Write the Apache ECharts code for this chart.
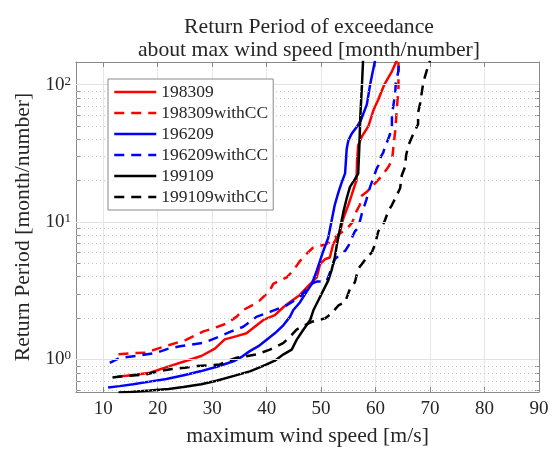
<!DOCTYPE html>
<html><head><meta charset="utf-8">
<script src="https://cdn.jsdelivr.net/npm/echarts@6/dist/echarts.min.js"></script>
<style>html,body{margin:0;padding:0;background:#fff}#c{width:557px;height:452px}</style>
</head><body><div id="c"></div>
<script>
// ---- text ----
const titleLines = ['Return Period of exceedance', 'about max wind speed [month/number]'];
const xName = 'maximum wind speed [m/s]';
const yName = 'Return Period [month/number]';
// ---- axes ----
const xMin = 5, xMax = 90;
const yMin = 0.58, yMax = 146;
const yMajor = [1, 10, 100];
const yMinor = [0.6, 0.7, 0.8, 0.9, 2, 3, 4, 5, 6, 7, 8, 9, 20, 30, 40, 50, 60, 70, 80, 90];
// ---- series: [wind speed m/s, return period] ----
const names = ['198309', '198309withCC', '196209', '196209withCC', '199109', '199109withCC'];
const d198309 = [[12.6,0.75],[15.5,0.77],[18.6,0.80],[21.6,0.88],[25,0.97],[28,1.06],[30.5,1.2],[32.3,1.4],[34.5,1.48],[36.3,1.55],[39.4,1.94],[41.5,2.1],[43.1,2.41],[44.3,2.62],[46.1,2.95],[48.0,3.55],[49.2,3.96],[49.8,4.94],[50.7,5.36],[51.6,5.52],[52.2,6.87],[53.5,8.57],[54.1,10.7],[55.0,13.3],[55.6,15.7],[56.2,18.6],[56.5,20],[56.6,28],[56.8,36],[57.5,42],[58.7,50],[59.6,65],[60.5,78],[61.6,100],[63.0,125],[63.9,150]];
const d198309cc = [[12.8,1.09],[15,1.11],[17.7,1.12],[20,1.2],[22.3,1.28],[25,1.38],[28.4,1.6],[30.5,1.7],[32.7,1.83],[34.5,2.05],[35.7,2.29],[37.5,2.5],[38.8,2.7],[40.6,3.18],[41.2,3.55],[43.7,3.96],[45,4.5],[46.1,5.2],[47,5.7],[48.5,6.5],[50.4,6.8],[51.5,7.1],[53,8],[54.8,9.0],[55.7,9.9],[56.5,12],[57.1,13.3],[57.5,15.6],[58.4,16.6],[59.9,19.1],[61.2,21.8],[62.3,25],[63.0,28],[63.2,33],[63.6,46],[63.9,66],[64.2,95],[64.2,150]];
const d196209 = [[10.9,0.625],[13,0.64],[15.5,0.66],[18.5,0.69],[21.6,0.72],[25,0.77],[27.8,0.82],[31,0.89],[33.9,0.97],[35.5,1.05],[36.9,1.15],[38.5,1.25],[40,1.39],[41.5,1.55],[43.1,1.78],[44.3,2.05],[44.9,2.29],[46.1,2.6],[47.3,3.09],[48.3,3.55],[49.2,4.43],[49.8,5.22],[50.4,6.16],[51.3,7.67],[51.9,10.1],[52.5,13.3],[53.2,16.6],[53.8,19.5],[54.4,22.6],[54.6,29.8],[54.7,34.2],[55.0,39.2],[55.6,43.8],[56.5,48.9],[57.3,55],[58.4,71.8],[59.0,100],[59.9,150]];
const d196209cc = [[11.2,0.945],[13.1,1.03],[16.1,1.06],[19.8,1.12],[22,1.2],[24.1,1.25],[28.4,1.32],[31.4,1.47],[33.5,1.6],[35.7,1.73],[38.2,2.05],[40.6,2.22],[43.7,2.48],[46.1,2.85],[47.5,3.3],[48.5,3.6],[49.2,3.69],[51.0,3.69],[52.2,4.94],[52.5,5.36],[53.5,5.8],[54.4,6.16],[55.0,6.7],[56.2,8.57],[56.8,9.06],[57.5,11.6],[57.8,12.6],[58.3,14.5],[58.7,16.6],[59.0,18.0],[59.6,21],[60.2,24.5],[60.5,25.8],[61.0,30],[61.4,32],[61.7,35],[62.3,40],[62.6,43],[63.0,50],[63.0,60],[63.3,72],[63.6,86],[63.7,102],[64.0,115],[64.2,127],[64.3,150]];
const d199109 = [[12.8,0.575],[15,0.58],[18.6,0.595],[22,0.61],[24.7,0.63],[28,0.66],[30.8,0.70],[34,0.76],[36.9,0.82],[38.5,0.87],[40,0.92],[41.5,0.98],[43.1,1.09],[44.6,1.18],[45.5,1.39],[46.7,1.64],[48,1.94],[48.6,2.29],[49.5,2.70],[50.4,3.18],[51.3,3.75],[51.9,4.43],[52.5,5.52],[52.9,6.87],[53.5,9.06],[54.1,11.9],[54.7,14.9],[55.3,18],[56.2,20.5],[56.8,22.5],[57.0,34],[57.2,59],[57.5,100],[57.7,150]];
const d199109cc = [[11.7,0.74],[14.3,0.76],[18.0,0.78],[20,0.82],[22.3,0.85],[25,0.87],[27.2,0.895],[31.4,0.92],[33,0.98],[34.5,1.03],[38.2,1.09],[40.6,1.18],[43.1,1.32],[44.6,1.51],[45.5,1.65],[47.0,1.78],[48.3,1.88],[50.7,1.99],[51.9,2.16],[53.2,2.48],[54.4,2.62],[55.3,3.27],[56.2,3.65],[56.8,4.55],[57.7,5.08],[58.5,5.6],[59.3,6.0],[59.9,6.87],[60.5,8.57],[61.1,9.3],[61.6,10],[62.3,11.9],[63.0,13.3],[63.9,15.7],[64.5,17.6],[64.8,21.8],[65.4,25.1],[65.6,30.5],[66.0,35.9],[66.9,43.5],[67.8,51.4],[67.8,62.5],[68.2,73.5],[68.5,89],[68.8,105],[69.4,127],[70.0,150]];
const seriesData = [d198309, d198309cc, d196209, d196209cc, d199109, d199109cc];

// ---- styles ----
const FONT = '"Liberation Serif", "Times New Roman", serif';
const TXT = '#262626';
const BOX = '#8a8a8a';
const colors = ['#ff0000', '#ff0000', '#0000ff', '#0000ff', '#000000', '#000000'];
const dashed = [false, true, false, true, false, true];

const chart = echarts.init(document.getElementById('c'), null, {renderer: 'canvas'});

const gridLines = yMajor.map(v => ({yAxis: v, lineStyle: {type: 'solid', color: '#e2e2e2', width: 1}}))
  .concat(yMinor.map(v => ({yAxis: v, lineStyle: {type: [1, 3], color: '#c4c4c4', width: 1}})));

const allTicks = yMinor.concat(yMajor).sort((a, b) => a - b);

const series = [{
  type: 'line', name: '_grid', data: [], z: 1, silent: true,
  markLine: {silent: true, symbol: ['none', 'none'], label: {show: false}, animation: false, data: gridLines}
}].concat(names.map((n, i) => ({
  type: 'line', name: n, data: seriesData[i], showSymbol: false, symbol: 'none', z: 3,
  lineStyle: {color: colors[i], width: 2.5, type: dashed[i] ? [10, 7] : 'solid'},
  itemStyle: {color: colors[i]}, animation: false, clip: true
})));

chart.setOption({
  animation: false,
  backgroundColor: '#ffffff',
  title: {
    text: titleLines.join('\n'), left: 304, top: 11, textAlign: 'center',
    textStyle: {fontFamily: FONT, fontSize: 21.7, fontWeight: 'normal', color: TXT, lineHeight: 23}
  },
  grid: {left: 76, right: 18, top: 62, bottom: 56, containLabel: false},
  legend: {
    data: names, orient: 'vertical', left: 108, top: 79,
    padding: [4, 5, 4, 5], itemGap: 3, itemWidth: 42, itemHeight: 14,
    backgroundColor: '#ffffff', borderColor: BOX, borderWidth: 1,
    itemStyle: {opacity: 0},
    lineStyle: {opacity: 1, width: 2.5},
    textStyle: {fontFamily: FONT, fontSize: 17.5, color: TXT, lineHeight: 18},
    z: 10
  },
  xAxis: [{
    type: 'value', min: xMin, max: xMax, splitNumber: 9, position: 'bottom',
    name: xName, nameLocation: 'middle', nameGap: 33,
    nameTextStyle: {fontFamily: FONT, fontSize: 21.7, color: TXT},
    axisLine: {show: true, onZero: false, lineStyle: {color: BOX, width: 1}},
    axisTick: {show: true, inside: true, length: 5, lineStyle: {color: BOX}},
    axisLabel: {fontFamily: FONT, fontSize: 19, color: TXT, margin: 8,
      formatter: v => (v % 10 === 0 ? String(v) : '')},
    splitLine: {show: true, lineStyle: {color: '#e6e6e6', width: 1}}
  }, {
    type: 'value', min: xMin, max: xMax, splitNumber: 9, position: 'top',
    axisLine: {show: true, onZero: false, lineStyle: {color: BOX, width: 1}},
    axisTick: {show: true, inside: true, length: 5, lineStyle: {color: BOX}},
    axisLabel: {show: false}, splitLine: {show: false}
  }],
  yAxis: [{
    type: 'log', logBase: 10, min: yMin, max: yMax, position: 'left',
    name: yName, nameLocation: 'middle', nameGap: 31, nameRotate: 90,
    nameTextStyle: {fontFamily: FONT, fontSize: 21.7, color: TXT},
    axisLine: {show: true, onZero: false, lineStyle: {color: BOX, width: 1}},
    axisTick: {show: true, inside: true, length: 4, lineStyle: {color: BOX}, customValues: allTicks},
    axisLabel: {
      margin: 5, color: TXT,
      formatter: v => { const e = Math.log10(v); const r = Math.round(e); if (Math.abs(e - r) > 1e-6) return ''; return '{b|10}{s|' + r + '}'; },
      rich: {
        b: {fontFamily: FONT, fontSize: 19, color: TXT, lineHeight: 20},
        s: {fontFamily: FONT, fontSize: 13, color: TXT, verticalAlign: 'top', lineHeight: 12}
      }
    },
    splitLine: {show: false}
  }, {
    type: 'log', logBase: 10, min: yMin, max: yMax, position: 'right',
    axisLine: {show: true, onZero: false, lineStyle: {color: BOX, width: 1}},
    axisTick: {show: true, inside: true, length: 4, lineStyle: {color: BOX}, customValues: allTicks},
    axisLabel: {show: false}, splitLine: {show: false}
  }],
  series: series
});
</script>
</body></html>
